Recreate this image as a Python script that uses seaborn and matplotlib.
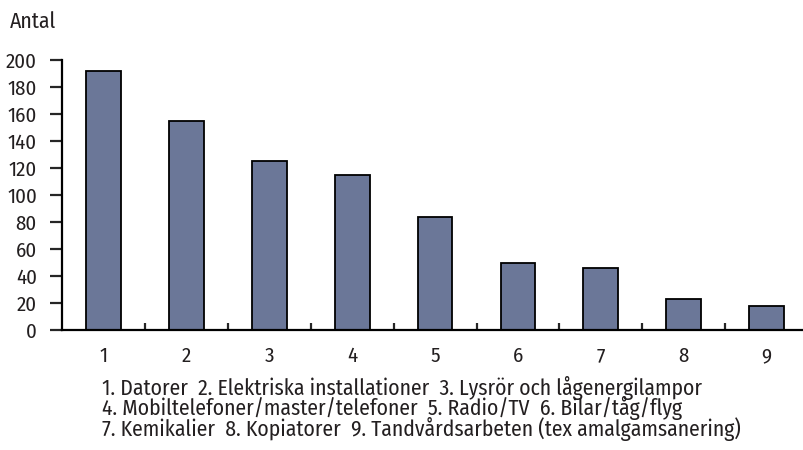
import numpy as np
import pandas as pd
import seaborn as sns
import matplotlib.pyplot as plt
from matplotlib import font_manager

categories = ["1", "2", "3", "4", "5", "6", "7", "8", "9"]
antal = [192, 155, 125, 115, 84, 50, 46, 23, 18]
caption_lines = [
    "1. Datorer  2. Elektriska installationer  3. Lysrör och lågenergilampor",
    "4. Mobiltelefoner/master/telefoner  5. Radio/TV  6. Bilar/tåg/flyg",
    "7. Kemikalier  8. Kopiatorer  9. Tandvårdsarbeten (tex amalgamsanering)",
]

sns.set_style("white")
names = {f.name for f in font_manager.fontManager.ttflist}
font = "DejaVu Sans"
for cand in ["Fira Sans Condensed", "Roboto Condensed", "Archivo Narrow", "Liberation Sans Narrow"]:
    if cand in names:
        font = cand
        break
plt.rcParams["font.family"] = [font, "DejaVu Sans"]
txt = "#231f20"
narrow = font != "DejaVu Sans"
fsz = 15 if narrow else 11
csz = 15.6 if narrow else 11

df = pd.DataFrame({"kat": categories, "antal": antal})

fig = plt.figure(figsize=(8.04, 4.5), dpi=100)
ax = fig.add_axes([62 / 804, 120 / 450, 742 / 804, 270 / 450])
sns.barplot(data=df, x="kat", y="antal", color="#6b7798", saturation=1,
            width=0.42, edgecolor="black", linewidth=1.3, ax=ax)

ax.set_xlim(-0.5, 8.45)
ax.set_ylim(0, 200)
ax.set_yticks(np.arange(0, 201, 20))
ax.set_xlabel("")
ax.set_ylabel("")
for s in ["top", "right"]:
    ax.spines[s].set_visible(False)
for s in ["left", "bottom"]:
    ax.spines[s].set_linewidth(1.6)
    ax.spines[s].set_color("black")

ax.tick_params(axis="y", direction="out", length=9, width=1.6, pad=9,
               labelsize=fsz, labelcolor=txt, left=True)
ax.tick_params(axis="x", which="major", length=0, pad=12, labelsize=fsz, labelcolor=txt)
ax.set_xticks(np.arange(0.5, 8.5, 1), minor=True)
ax.tick_params(axis="x", which="minor", direction="in", length=5, width=1.6, bottom=True)

fig.text(10 / 804, 1 - 22 / 450, "Antal", fontsize=csz, color=txt, va="center")
for i, line in enumerate(caption_lines):
    fig.text(102 / 804, 1 - (388 + i * 20.5) / 450, line, fontsize=csz,
             color=txt, va="center")

fig.savefig("out.png", dpi=100)
